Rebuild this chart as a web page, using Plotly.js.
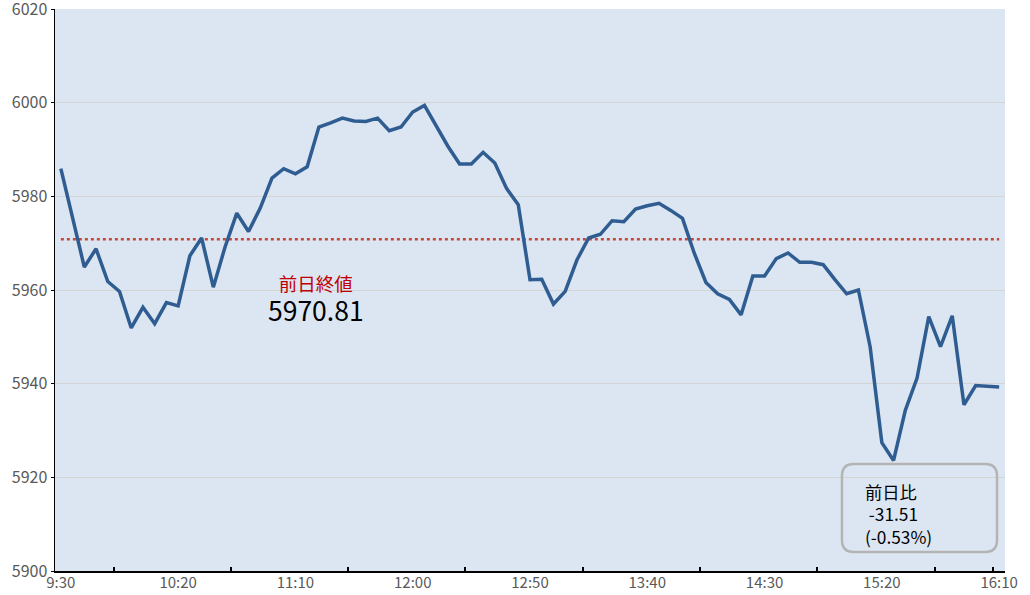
<!DOCTYPE html>
<html>
<head>
<meta charset="utf-8">
<script src="https://cdn.plot.ly/plotly-3.0.1.min.js"></script>
<style>
  html, body { margin: 0; padding: 0; background: #ffffff; }
  #chart { width: 1030px; height: 595px; }
</style>
</head>
<body>
<div id="chart"></div>
<script>
// 5-minute prices, 9:30 .. 16:10
var prices = [
    5985.9, 5975.0, 5964.9, 5968.8, 5961.8, 5959.7, 5951.9, 5956.3, 5952.8, 5957.3,
    5956.6, 5967.3, 5971.1, 5960.6, 5969.2, 5976.4, 5972.5, 5977.5, 5983.9, 5985.9,
    5984.8, 5986.3, 5994.8, 5995.7, 5996.7, 5996.1, 5996.0, 5996.7, 5994.0, 5994.8,
    5998.0, 5999.4, 5994.9, 5990.7, 5986.9, 5986.9, 5989.4, 5987.1, 5981.7, 5978.2,
    5962.2, 5962.3, 5957.0, 5959.7, 5966.4, 5971.1, 5971.9, 5974.8, 5974.6, 5977.3,
    5978.0, 5978.5, 5977.0, 5975.3, 5967.9, 5961.6, 5959.2, 5958.0, 5954.7, 5963.0,
    5963.0, 5966.7, 5967.9, 5965.9, 5965.9, 5965.4, 5962.2, 5959.2, 5960.0, 5947.9,
    5927.4, 5923.6, 5934.3, 5941.2, 5954.3, 5947.9, 5954.5, 5935.5, 5939.6, 5939.4,
    5939.3
]
var prevClose = 5970.81
var change = -31.51
var changePct = -0.53

var tickIndex = [0, 10, 20, 30, 40, 50, 60, 70, 80]
var tickLabels = ["9:30", "10:20", "11:10", "12:00", "12:50", "13:40", "14:30", "15:20", "16:10"]
var minorTicks = [4.5, 14.5, 24.5, 34.5, 44.5, 54.5, 64.5, 74.5, 79.5]
var yTicks = [5900, 5920, 5940, 5960, 5980, 6000, 6020]

var idx = prices.map(function (p, i) { return i })
var prevLine = prices.map(function () { return prevClose })

var font = "'Noto Sans CJK JP', 'Noto Sans', sans-serif"

var data = [
    {
        x: idx,
        y: prevLine,
        type: 'scatter',
        mode: 'lines',
        line: { color: '#c8463c', width: 2.5, dash: 'dot' },
        hoverinfo: 'skip'
    },
    {
        x: idx,
        y: prices,
        type: 'scatter',
        mode: 'lines',
        line: { color: '#2f5d91', width: 3.5 }
    }
]

// rounded box round the change text (paper coords)
var bx0 = 0.8284, bx1 = 0.9916, by0 = 0.0338, by1 = 0.1904
var rx = 0.0126, ry = 0.0214
var boxPath = 'M' + (bx0 + rx) + ',' + by0 +
    ' L' + (bx1 - rx) + ',' + by0 + ' Q' + bx1 + ',' + by0 + ' ' + bx1 + ',' + (by0 + ry) +
    ' L' + bx1 + ',' + (by1 - ry) + ' Q' + bx1 + ',' + by1 + ' ' + (bx1 - rx) + ',' + by1 +
    ' L' + (bx0 + rx) + ',' + by1 + ' Q' + bx0 + ',' + by1 + ' ' + bx0 + ',' + (by1 - ry) +
    ' L' + bx0 + ',' + (by0 + ry) + ' Q' + bx0 + ',' + by0 + ' ' + (bx0 + rx) + ',' + by0 + ' Z'

var layout = {
    width: 1030,
    height: 595,
    margin: { l: 55, r: 25, t: 9, b: 24 },
    paper_bgcolor: '#ffffff',
    plot_bgcolor: '#dce6f2',
    showlegend: false,
    font: { family: font, color: '#595959', size: 16 },
    xaxis: {
        range: [-0.5, 80.5],
        tickmode: 'array',
        tickvals: tickIndex,
        ticktext: tickLabels,
        ticks: '',
        ticklabelstandoff: -3,
        ticklabeloverflow: 'allow',
        showgrid: false,
        zeroline: false,
        showline: true,
        linecolor: '#000000',
        linewidth: 2,
        tickfont: { size: 15, color: '#595959' },
        minor: {
            tickmode: 'array',
            tickvals: minorTicks,
            ticks: 'inside',
            ticklen: 4,
            tickwidth: 2,
            tickcolor: '#000000',
            showgrid: false
        },
        fixedrange: true
    },
    yaxis: {
        range: [5900, 6020],
        tickmode: 'array',
        tickvals: yTicks,
        ticks: 'outside',
        ticklen: 3,
        tickcolor: '#000000',
        ticklabeloverflow: 'allow',
        showline: true,
        linecolor: '#000000',
        linewidth: 1.5,
        gridcolor: '#d4d4d4',
        gridwidth: 1,
        zeroline: false,
        tickfont: { size: 16, color: '#595959' },
        fixedrange: true
    },
    shapes: [
        {
            type: 'path',
            xref: 'paper',
            yref: 'paper',
            path: boxPath,
            line: { color: '#b4b4b4', width: 2.5 },
            fillcolor: 'rgba(0,0,0,0)'
        }
    ],
    annotations: [
        {
            x: 21.75, y: 5958.0, xref: 'x', yref: 'y',
            text: '<span style="color:#c00000;font-size:18.5px">前日終値</span><br>' +
                '<span style="font-size:26.5px">' + prevClose.toFixed(2) + '</span>',
            showarrow: false,
            font: { size: 23, color: '#000000', family: font }
        },
        {
            x: 0.851, y: 0.1014, xref: 'paper', yref: 'paper',
            xanchor: 'left', yanchor: 'middle', align: 'left',
            text: '前日比<br>\u00a0' + change.toFixed(2) + '<br>(' + changePct.toFixed(2) + '%)',
            showarrow: false,
            font: { size: 17.3, color: '#000000', family: font }
        }
    ]
}

var config = { displayModeBar: false, staticPlot: true }

Plotly.newPlot('chart', data, layout, config)
</script>
</body>
</html>
